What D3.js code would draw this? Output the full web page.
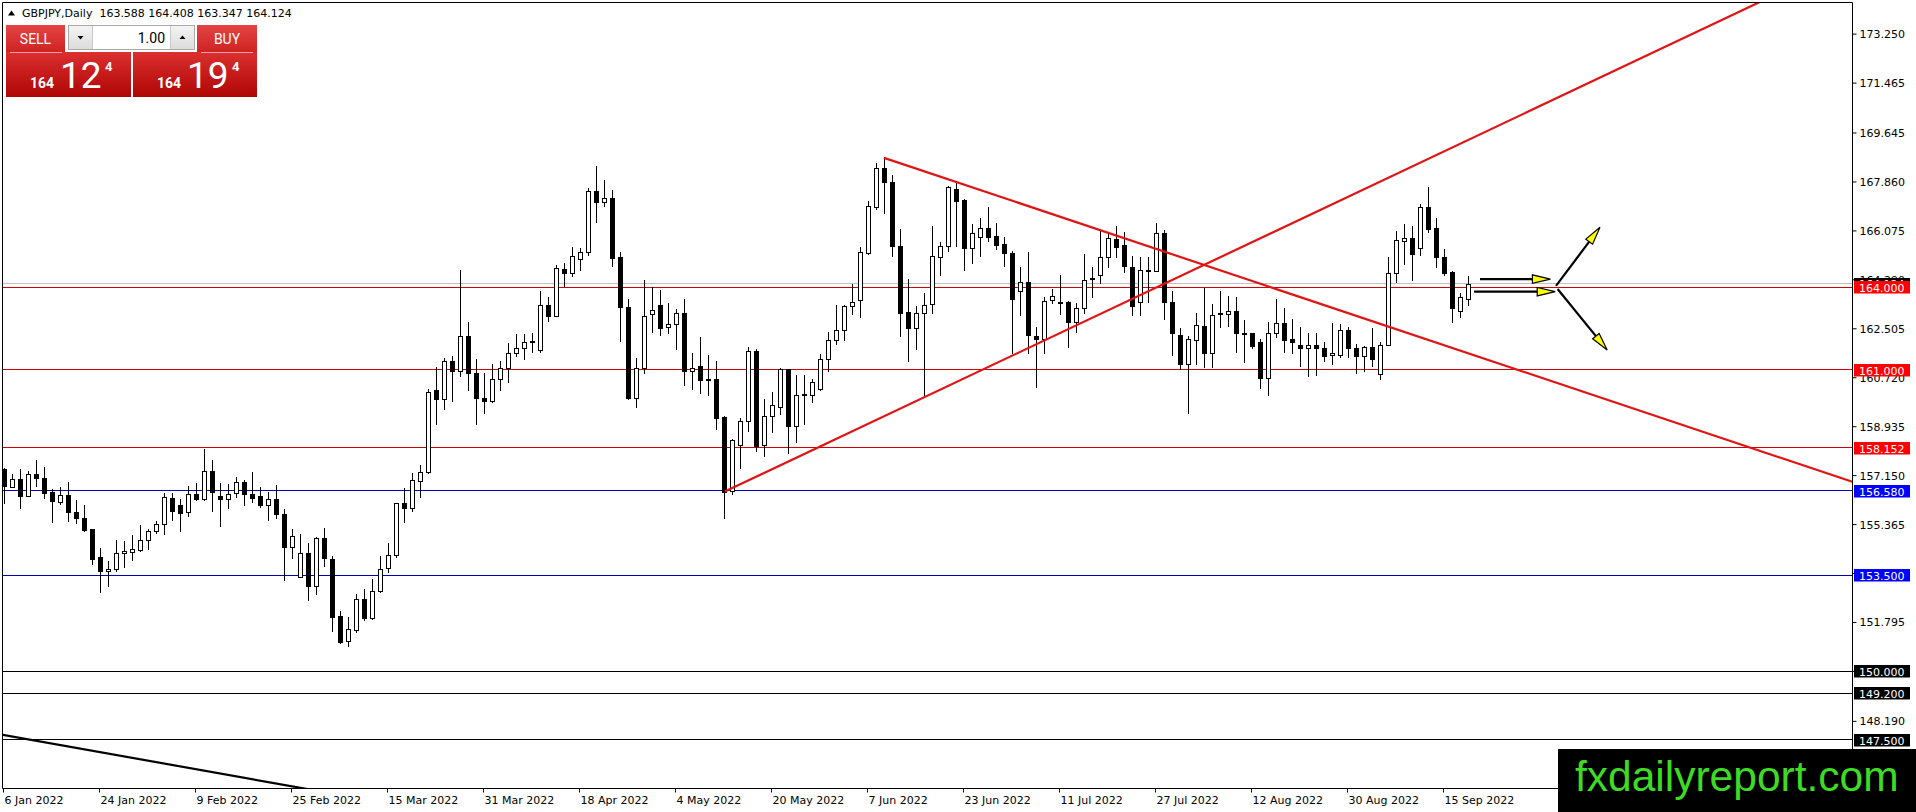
<!DOCTYPE html>
<html>
<head>
<meta charset="utf-8">
<script src="https://cdn.jsdelivr.net/npm/d3@7"></script>
<style>
html, body { margin: 0; padding: 0; background: #fff; overflow: hidden; }
svg { display: block; }
</style>
</head>
<body>
<svg id="chart"></svg>
<script>
// GBPJPY daily bars, 6 Jan 2022 .. 20 Sep 2022 (weekdays)
const START_DATE = '2022-01-06';

const OPEN = [
  157.38,156.73,157.02,156.39,157.20,157.05,156.53,156.18,156.41,155.81,
  155.59,155.17,154.15,153.65,153.73,154.32,154.35,154.41,154.80,155.12,
  155.38,156.33,156.07,155.81,156.48,156.27,157.31,156.38,156.29,156.51,
  156.91,156.48,156.38,156.07,156.29,155.74,154.54,153.44,154.32,153.10,
  154.86,154.10,152.00,151.09,151.52,152.64,151.94,152.92,153.75,154.22,
  156.12,155.96,156.93,157.26,160.25,159.94,161.33,160.93,162.21,160.89,
  159.98,159.86,160.67,161.04,161.59,161.80,162.04,161.71,163.35,162.96,
  164.65,164.53,165.03,165.30,167.53,167.12,167.25,165.09,163.27,159.95,
  161.04,163.01,163.35,162.57,162.66,163.05,160.93,161.14,160.65,160.65,
  159.28,156.57,158.26,159.13,161.66,158.24,159.31,159.64,161.01,158.94,
  160.12,160.08,160.28,161.40,162.08,162.45,163.30,163.55,165.25,166.92,
  168.34,167.83,165.52,163.11,162.50,163.06,163.38,165.09,165.49,167.59,
  167.19,165.42,165.82,166.15,165.86,165.57,165.24,163.85,164.21,162.23,
  162.11,163.53,163.45,163.45,162.72,163.25,164.35,164.46,165.09,165.76,
  165.54,164.73,163.45,164.60,164.60,165.97,163.45,162.26,161.21,162.08,
  162.60,161.59,163.08,163.04,163.12,162.35,162.32,162.01,160.71,162.33,
  162.68,162.10,161.89,161.77,161.91,161.77,161.54,161.52,162.45,161.77,
  161.50,161.84,160.85,161.90,164.51,165.68,165.79,165.44,166.92,166.15,
  165.09,164.54,163.15,163.588
];
const HIGH = [
  157.42,157.20,157.38,157.30,157.72,157.46,156.63,156.73,156.91,156.23,
  156.07,155.19,154.50,154.02,154.77,154.73,154.95,155.34,155.19,155.47,
  156.51,156.51,156.27,156.75,156.85,158.09,157.72,156.87,156.81,157.09,
  156.97,157.27,156.73,156.53,156.78,155.90,155.17,154.99,154.68,154.90,
  155.23,154.19,152.19,151.98,152.80,152.98,153.37,154.19,154.68,156.14,
  156.69,157.21,157.51,160.28,161.11,161.41,161.50,164.63,162.72,161.38,
  160.89,161.20,161.32,161.96,162.30,162.30,162.35,163.85,163.63,164.82,
  164.88,165.46,165.42,167.61,168.44,167.92,167.56,165.30,163.59,161.42,
  164.28,164.00,163.90,163.42,163.20,163.57,161.60,162.17,161.53,161.32,
  159.31,158.48,159.25,161.84,161.74,159.92,160.20,161.07,161.01,160.81,
  160.81,160.65,161.56,162.38,163.36,163.36,164.11,165.46,167.13,168.54,
  168.75,168.08,166.13,164.32,163.30,163.79,166.22,165.64,167.69,167.86,
  167.22,166.31,166.52,166.92,166.36,165.82,165.34,164.73,165.28,162.57,
  163.63,163.93,164.46,163.51,163.42,165.20,164.73,166.07,165.94,166.25,
  166.01,165.13,165.09,165.09,166.35,166.09,163.87,162.50,162.23,163.06,
  163.96,163.39,163.85,163.67,163.63,162.80,162.35,162.13,162.72,163.57,
  163.23,162.84,162.54,162.33,162.35,162.01,162.69,162.66,162.57,161.93,
  161.87,162.50,161.99,165.09,166.04,166.31,166.25,167.04,167.65,166.52,
  165.40,164.60,163.81,164.408
];
const LOW = [
  156.14,156.73,155.96,156.39,156.75,156.33,155.44,156.08,155.47,155.41,
  155.11,153.91,152.88,153.10,153.65,153.79,154.07,154.38,154.47,155.05,
  155.02,155.53,155.11,155.66,156.23,156.24,155.84,155.29,155.94,156.36,
  156.06,156.18,155.98,155.51,155.58,153.34,154.12,153.43,152.61,152.80,
  153.83,151.46,151.03,150.93,151.42,151.88,151.92,152.90,153.62,154.15,
  155.44,155.84,156.36,157.24,159.00,159.58,159.86,160.75,160.26,159.00,
  159.43,159.82,160.26,160.53,161.50,161.38,161.65,161.65,162.78,162.94,
  164.06,164.42,164.64,165.18,166.39,166.98,164.79,162.05,159.92,159.64,
  160.89,162.38,162.25,162.33,161.74,160.43,160.28,160.16,160.06,158.85,
  155.60,156.47,157.42,158.76,158.03,157.85,158.72,159.37,157.97,158.36,
  159.00,159.82,160.24,160.95,161.93,162.08,163.02,162.90,165.21,166.86,
  166.70,165.15,162.23,161.32,161.74,160.01,163.06,164.46,165.34,165.52,
  164.64,164.88,165.13,165.70,165.40,164.79,161.60,163.00,161.60,160.37,
  161.59,163.42,163.02,161.84,162.38,163.06,163.63,164.17,164.73,165.09,
  164.54,162.99,162.99,163.47,164.60,162.86,161.54,161.03,159.43,161.19,
  161.10,161.10,162.54,162.60,161.64,161.26,161.80,160.34,160.08,162.17,
  161.64,161.60,161.13,160.77,160.80,161.32,161.19,161.44,161.46,160.89,
  160.95,161.13,160.65,161.89,164.18,164.85,164.28,165.19,166.01,164.73,
  164.44,162.74,162.93,163.347
];
const CLOSE = [
  156.75,157.02,156.39,157.20,157.05,156.51,156.20,156.41,155.81,155.58,
  155.14,154.10,153.65,153.74,154.32,154.40,154.44,154.80,155.13,155.38,
  156.36,155.84,155.78,156.48,156.27,157.31,156.53,156.29,156.48,156.91,
  156.47,156.33,156.06,156.29,155.74,154.52,154.93,154.32,153.10,154.86,
  154.12,151.97,151.07,151.54,152.64,151.94,152.94,153.71,154.23,156.12,
  155.95,156.97,157.28,160.20,159.94,161.33,160.93,162.24,160.89,159.98,
  159.86,160.67,161.04,161.59,161.80,162.01,161.99,163.35,162.96,164.69,
  164.53,165.15,165.30,167.53,167.12,167.25,165.06,163.27,159.95,161.07,
  162.97,163.18,162.53,162.65,163.05,160.93,161.07,160.62,160.61,159.25,
  156.54,158.43,159.13,161.66,158.21,159.31,159.71,161.01,158.94,160.08,
  160.08,160.53,161.40,162.08,162.45,163.30,163.48,165.28,166.96,168.34,
  167.83,165.52,163.08,162.50,163.06,163.35,165.15,165.49,167.65,167.16,
  165.42,165.97,166.15,165.85,165.56,165.24,163.59,164.21,162.27,162.13,
  163.51,163.69,163.41,162.72,163.25,164.27,164.30,165.09,165.79,165.48,
  164.79,163.33,164.63,164.63,165.97,163.45,162.35,161.19,162.10,162.62,
  161.59,162.98,163.04,163.12,162.32,162.32,161.87,160.71,162.32,162.68,
  162.08,162.02,161.77,161.90,161.77,161.50,161.60,162.45,161.77,161.48,
  161.84,161.40,161.90,164.51,165.72,165.79,165.20,166.92,166.13,165.12,
  164.53,163.23,163.63,164.124
];

const DATE_TICKS = ['6 Jan 2022', '24 Jan 2022', '9 Feb 2022', '25 Feb 2022', '15 Mar 2022',
  '31 Mar 2022', '18 Apr 2022', '4 May 2022', '20 May 2022', '7 Jun 2022', '23 Jun 2022',
  '11 Jul 2022', '27 Jul 2022', '12 Aug 2022', '30 Aug 2022', '15 Sep 2022'];

const PRICE_TICKS = [173.250, 171.465, 169.645, 167.860, 166.075, 164.290, 162.505, 160.720,
  158.935, 157.150, 155.365, 153.580, 151.795, 150.010, 148.190];

// horizontal levels and their colour group
const LEVELS = [164.000, 161.000, 158.152, 156.580, 153.500, 150.000, 149.200, 147.500];
const LEVEL_KIND = ['red', 'red', 'red', 'blue', 'blue', 'black', 'black', 'black'];
const BID = 164.124;

// trend lines: two anchors as [bar index, price]
const TREND_LINES = [
  [[110, 168.72], [190.75, 160.84]],
  [[90.1, 156.55], [175.1, 168.28]],
  [[-0.5, 147.70], [37, 145.75]]
];
const TREND_KIND = ['red', 'red', 'black'];

// arrows: [from, to] as [bar index, price]
const ARROWS = [
  [[184.5, 164.30], [193.3, 164.30]],
  [[183.75, 163.84], [193.9, 163.84]],
  [[194.0, 164.05], [199.5, 166.19]],
  [[194.2, 163.94], [200.4, 161.71]]
];

const TITLE = 'GBPJPY,Daily  163.588 164.408 163.347 164.124';

// ---------------------------------------------------------------

const W = 1916, H = 812;
const P = {left: 2.5, top: 2.5, right: 1852.5, bottom: 788.5};
const AXIS_FONT = '"DejaVu Sans", Verdana, sans-serif';
const COLORS = {
  red: {line: '#d00000', box: '#ff0000', trend: '#e01414'},
  blue: {line: '#0000b4', box: '#0000ff'},
  black: {line: '#000000', box: '#000000', trend: '#000000'}
};

// trading days
const dates = [];
{
  const d = d3.timeParse('%Y-%m-%d')(START_DATE);
  while (dates.length < OPEN.length) {
    const wd = d.getDay();
    if (wd !== 0 && wd !== 6) dates.push(new Date(d));
    d.setDate(d.getDate() + 1);
  }
}
const fmtDate = d3.timeFormat('%-d %b %Y');
const bars = OPEN.map((o, i) => ({i, o, h: HIGH[i], l: LOW[i], c: CLOSE[i], date: dates[i]}));

const x = d3.scaleLinear().domain([0, 231]).range([4, 1852]);
const y = d3.scaleLinear().domain([150, 164]).range([671.2, 287.3]);

const svg = d3.select('#chart').attr('width', W).attr('height', H)
  .attr('viewBox', `0 0 ${W} ${H}`);

svg.append('rect').attr('width', W).attr('height', H).attr('fill', '#fff');

const defs = svg.append('defs');
defs.append('clipPath').attr('id', 'plotClip')
  .append('rect')
  .attr('x', P.left + 0.5).attr('y', P.top + 0.5)
  .attr('width', P.right - P.left - 1).attr('height', P.bottom - P.top - 1);

function grad(id, c1, c2) {
  const g = defs.append('linearGradient').attr('id', id)
    .attr('x1', 0).attr('y1', 0).attr('x2', 0).attr('y2', 1);
  g.append('stop').attr('offset', '0%').attr('stop-color', c1);
  g.append('stop').attr('offset', '100%').attr('stop-color', c2);
}
grad('btnTop', '#e44444', '#cf2323');
grad('btnBig', '#dc3030', '#ae0505');
grad('btnGray', '#f4f4f4', '#dcdcdc');

const plot = svg.append('g').attr('clip-path', 'url(#plotClip)');

const crisp = v => Math.round(v) + 0.5;

// horizontal levels + bid line
plot.append('line')
  .attr('x1', P.left).attr('x2', P.right)
  .attr('y1', crisp(y(BID) - 0.5)).attr('y2', crisp(y(BID) - 0.5))
  .attr('stroke', '#c0c0c0').attr('stroke-width', 1);

plot.selectAll('.level')
  .data(LEVELS)
  .enter()
  .append('line')
  .classed('level', true)
  .attr('x1', P.left).attr('x2', P.right)
  .attr('y1', d => crisp(y(d) - 0.5)).attr('y2', d => crisp(y(d) - 0.5))
  .attr('stroke', (d, i) => COLORS[LEVEL_KIND[i]].line)
  .attr('stroke-width', 1);

// candles
const candle = plot.selectAll('.bar')
  .data(bars)
  .enter()
  .append('g')
  .classed('bar', true);

candle.append('line')
  .attr('x1', d => Math.round(x(d.i)) + 0.5)
  .attr('x2', d => Math.round(x(d.i)) + 0.5)
  .attr('y1', d => Math.round(y(d.h)))
  .attr('y2', d => Math.round(y(d.l)) + 1)
  .attr('stroke', '#000').attr('stroke-width', 1);

candle.append('rect')
  .attr('x', d => Math.round(x(d.i)) - 2 + (d.c >= d.o ? 0.5 : 0))
  .attr('width', d => d.c >= d.o ? 4 : 5)
  .attr('y', d => Math.round(y(Math.max(d.o, d.c))) + (d.c >= d.o ? 0.5 : 0))
  .attr('height', d => {
    const hgt = Math.round(y(Math.min(d.o, d.c))) - Math.round(y(Math.max(d.o, d.c)));
    return d.c >= d.o ? Math.max(hgt, 1) : Math.max(hgt, 1) + 1;
  })
  .attr('fill', d => d.c >= d.o ? '#fff' : '#000')
  .attr('stroke', d => d.c >= d.o ? '#000' : 'none')
  .attr('stroke-width', 1);

// trend lines (rays to the right for the red ones)
function linePoint(a, b, idx) {
  const t = (idx - a[0]) / (b[0] - a[0]);
  return [idx, a[1] + t * (b[1] - a[1])];
}
plot.selectAll('.trend')
  .data(TREND_LINES)
  .enter()
  .append('line')
  .classed('trend', true)
  .each(function (d, k) {
    const a = d[0], b = d[1];
    const start = TREND_KIND[k] === 'red' ? a : linePoint(a, b, -20);
    const end = linePoint(a, b, 260);
    d3.select(this)
      .attr('x1', x(start[0])).attr('y1', y(start[1]))
      .attr('x2', x(end[0])).attr('y2', y(end[1]));
  })
  .attr('stroke', (d, k) => COLORS[TREND_KIND[k]].trend)
  .attr('stroke-width', 2.2);

// arrows
const arrows = plot.selectAll('.arrow')
  .data(ARROWS)
  .enter()
  .append('g')
  .classed('arrow', true);

arrows.each(function (d) {
  const g = d3.select(this);
  const x1 = x(d[0][0]), y1 = y(d[0][1]), x2 = x(d[1][0]), y2 = y(d[1][1]);
  const ang = Math.atan2(y2 - y1, x2 - x1);
  const len = 18, hw = 4.2;
  const bx = x2 - len * Math.cos(ang), by = y2 - len * Math.sin(ang);
  g.append('line')
    .attr('x1', x1).attr('y1', y1).attr('x2', bx + 2 * Math.cos(ang)).attr('y2', by + 2 * Math.sin(ang))
    .attr('stroke', '#000').attr('stroke-width', 2.2);
  const px = -Math.sin(ang) * hw, py = Math.cos(ang) * hw;
  g.append('path')
    .attr('d', `M${x2},${y2}L${bx + px},${by + py}L${bx - px},${by - py}Z`)
    .attr('fill', '#ffff00').attr('stroke', '#000').attr('stroke-width', 1.2)
    .attr('stroke-linejoin', 'miter');
});

// frame
svg.append('path')
  .attr('d', `M${P.left},${P.bottom}V${P.top}H${P.right}V${P.bottom}Z`)
  .attr('fill', 'none').attr('stroke', '#000').attr('stroke-width', 1);

// price axis
const yAxis = svg.append('g')
  .attr('transform', `translate(${P.right},0)`)
  .call(d3.axisRight(y).tickValues(PRICE_TICKS).tickFormat(d3.format('.3f')).tickSize(4).tickSizeOuter(0));
yAxis.select('.domain').remove();
yAxis.selectAll('text').attr('font-family', AXIS_FONT).attr('font-size', 11).attr('fill', '#000')
  .attr('x', 7).attr('dy', '0.36em');
yAxis.selectAll('line').attr('stroke', '#000');
yAxis.attr('font-family', null).attr('font-size', null);

// bid label (mostly hidden behind the 164.000 label)
const bidG = svg.append('g').attr('transform', `translate(0,${Math.round(y(BID))})`);
bidG.append('rect').attr('x', 1854).attr('y', -6).attr('width', 56).attr('height', 12).attr('fill', '#000');
bidG.append('text').attr('x', 1859).attr('y', 4).attr('fill', '#fff')
  .attr('font-family', AXIS_FONT).attr('font-size', 11).text(d3.format('.3f')(BID));

// level labels
const lvl = svg.selectAll('.lvlLabel')
  .data(LEVELS)
  .enter()
  .append('g')
  .classed('lvlLabel', true)
  .attr('transform', d => `translate(0,${Math.round(y(d))})`);
lvl.append('rect')
  .attr('x', 1854).attr('y', -6).attr('width', 56).attr('height', 12.5)
  .attr('fill', (d, i) => COLORS[LEVEL_KIND[i]].box);
lvl.append('text')
  .attr('x', 1859).attr('y', 4.5)
  .attr('fill', '#fff')
  .attr('font-family', AXIS_FONT).attr('font-size', 11)
  .text(d => d3.format('.3f')(d));

// date axis
const tickIdx = DATE_TICKS.map(s => dates.findIndex(d => fmtDate(d) === s)).filter(v => v >= 0);
const xAxis = svg.append('g')
  .attr('transform', `translate(0,${P.bottom})`)
  .call(d3.axisBottom(x).tickValues(tickIdx).tickFormat(i => fmtDate(dates[i])).tickSize(4).tickSizeOuter(0));
xAxis.select('.domain').remove();
xAxis.selectAll('.tick').attr('transform', d => `translate(${Math.round(x(d) - 1) + 0.5},0)`);
xAxis.selectAll('text').attr('font-family', AXIS_FONT).attr('font-size', 11).attr('fill', '#000')
  .attr('text-anchor', 'start').attr('x', 1).attr('y', 7).attr('dy', '0.73em');
xAxis.selectAll('line').attr('stroke', '#000');

// title
svg.append('path').attr('d', 'M8,15.5L15,15.5L11.5,10.5Z').attr('fill', '#000');
svg.append('text').attr('x', 22).attr('y', 17)
  .attr('font-family', AXIS_FONT).attr('font-size', 11).attr('fill', '#000')
  .style('white-space', 'pre').text(TITLE);

// one-click trading panel
const panel = svg.append('g');
const PF = 'Roboto, "Noto Sans", sans-serif';
panel.append('rect').attr('x', 6).attr('y', 25).attr('width', 59).attr('height', 27).attr('fill', 'url(#btnTop)');
panel.append('rect').attr('x', 197).attr('y', 25).attr('width', 60).attr('height', 27).attr('fill', 'url(#btnTop)');
panel.append('rect').attr('x', 6).attr('y', 52).attr('width', 125).attr('height', 45).attr('fill', 'url(#btnBig)');
panel.append('rect').attr('x', 133).attr('y', 52).attr('width', 124).attr('height', 45).attr('fill', 'url(#btnBig)');
panel.append('line').attr('x1', 10).attr('x2', 62).attr('y1', 52.5).attr('y2', 52.5).attr('stroke', '#f2a0a0');
panel.append('line').attr('x1', 201).attr('x2', 253).attr('y1', 52.5).attr('y2', 52.5).attr('stroke', '#f2a0a0');
panel.append('text').attr('x', 35.5).attr('y', 44).attr('text-anchor', 'middle')
  .attr('font-family', PF).attr('font-size', 14).attr('fill', '#fff').text('SELL');
panel.append('text').attr('x', 227).attr('y', 44).attr('text-anchor', 'middle')
  .attr('font-family', PF).attr('font-size', 14).attr('fill', '#fff').text('BUY');

// lot spinner
panel.append('rect').attr('x', 68.5).attr('y', 25.5).attr('width', 126).attr('height', 24)
  .attr('fill', '#fff').attr('stroke', '#a8a8a8');
panel.append('rect').attr('x', 69).attr('y', 26).attr('width', 23).attr('height', 23).attr('fill', 'url(#btnGray)');
panel.append('rect').attr('x', 171).attr('y', 26).attr('width', 23).attr('height', 23).attr('fill', 'url(#btnGray)');
panel.append('line').attr('x1', 92.5).attr('x2', 92.5).attr('y1', 26).attr('y2', 49).attr('stroke', '#c8c8c8');
panel.append('line').attr('x1', 170.5).attr('x2', 170.5).attr('y1', 26).attr('y2', 49).attr('stroke', '#c8c8c8');
panel.append('path').attr('d', 'M77.5,36L83.5,36L80.5,39.5Z').attr('fill', '#000');
panel.append('path').attr('d', 'M179.5,39L185.5,39L182.5,35.5Z').attr('fill', '#000');
panel.append('text').attr('x', 165).attr('y', 42.5).attr('text-anchor', 'end')
  .attr('font-family', PF).attr('font-size', 14).attr('fill', '#000').text('1.00');

// quotes
function quote(x0, big) {
  panel.append('text').attr('x', x0).attr('y', 87.5)
    .attr('font-family', PF).attr('font-weight', 'bold').attr('font-size', 14).attr('fill', '#fff').text('164');
  panel.append('text').attr('x', x0 + 30).attr('y', 88)
    .attr('font-family', PF).attr('font-size', 37).attr('fill', '#fff').text(big);
  panel.append('text').attr('x', x0 + 75).attr('y', 71)
    .attr('font-family', PF).attr('font-weight', 'bold').attr('font-size', 13).attr('fill', '#fff').text('4');
}
quote(30, '12');
quote(157, '19');

// watermark
svg.append('rect').attr('x', 1558).attr('y', 749).attr('width', W - 1558).attr('height', H - 749).attr('fill', '#000');
svg.append('text').attr('x', 1575).attr('y', 791)
  .attr('font-family', '"Liberation Sans", Arial, sans-serif').attr('font-size', 42.5)
  .attr('fill', '#3ddc22').text('fxdailyreport.com');
</script>
</body>
</html>
